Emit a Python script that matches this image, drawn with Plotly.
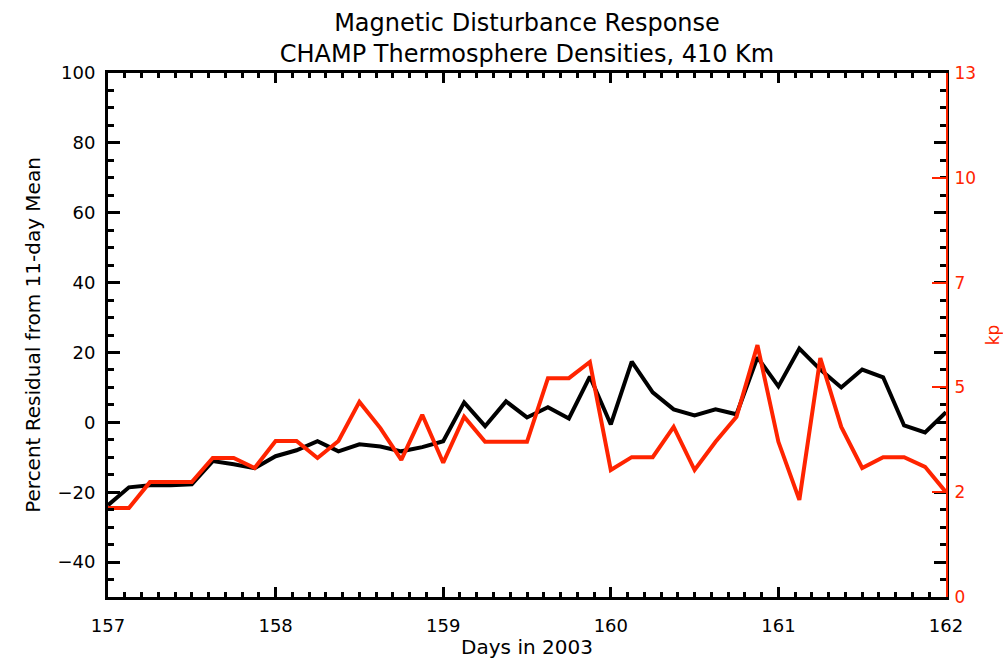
import plotly.graph_objects as go

# Days in 2003 (3-hour samples)
days = [157.0, 157.125, 157.25, 157.375, 157.5, 157.625, 157.75, 157.875,
        158.0, 158.125, 158.25, 158.375, 158.5, 158.625, 158.75, 158.875,
        159.0, 159.125, 159.25, 159.375, 159.5, 159.625, 159.75, 159.875,
        160.0, 160.125, 160.25, 160.375, 160.5, 160.625, 160.75, 160.875,
        161.0, 161.125, 161.25, 161.375, 161.5, 161.625, 161.75, 161.875,
        162.0]

# Percent residual from 11-day mean (CHAMP density)
residual = [-23.7, -18.6, -18.0, -18.0, -17.7, -11.1, -12.0, -13.1,
            -9.7, -8.0, -5.4, -8.3, -6.3, -6.9, -8.3, -7.1,
            -5.4, 5.7, -1.1, 6.0, 1.4, 4.3, 1.1, 13.1,
            -0.6, 17.4, 8.6, 3.7, 2.0, 3.7, 2.3, 18.6,
            10.3, 21.1, 15.1, 10.0, 15.1, 12.9, -0.9, -2.9,
            2.9]

# kp index
kp = [2.21, 2.21, 2.85, 2.85, 2.85, 3.45, 3.45, 3.20,
      3.87, 3.87, 3.45, 3.87, 4.84, 4.19, 3.40, 4.52,
      3.33, 4.47, 3.85, 3.85, 3.85, 5.43, 5.43, 5.83,
      3.15, 3.47, 3.47, 4.22, 3.15, 3.85, 4.47, 6.25,
      3.85, 2.41, 5.93, 4.22, 3.20, 3.47, 3.47, 3.23,
      2.60]

left_ticks = [-40, -20, 0, 20, 40, 60, 80, 100]
kp_tickvals = [0, 2.6, 5.2, 7.8, 10.4, 13]
kp_ticktext = ["0", "2", "5", "7", "10", "13"]
x_ticks = [157, 158, 159, 160, 161, 162]

RED = "rgb(255,36,0)"
FONT = "DejaVu Sans"

fig = go.Figure()
fig.add_trace(go.Scatter(x=days, y=residual, mode="lines",
                         line=dict(color="black", width=4), yaxis="y"))
fig.add_trace(go.Scatter(x=days, y=kp, mode="lines",
                         line=dict(color=RED, width=4), yaxis="y2"))

fig.update_layout(
    width=1003, height=666,
    margin=dict(l=108, r=57, t=73, b=69, autoexpand=False),
    paper_bgcolor="white", plot_bgcolor="white",
    showlegend=False,
    font=dict(family=FONT, color="black", size=18),
    title=dict(text="Magnetic Disturbance Response<br>CHAMP Thermosphere Densities, 410 Km",
               x=0.5, xref="paper", xanchor="center",
               y=1 - 31 / 666, yref="container", yanchor="middle",
               font=dict(family=FONT, size=24, color="black")),
    xaxis=dict(range=[157, 162], tickvals=x_ticks, ticktext=[str(v) for v in x_ticks],
               showgrid=False, zeroline=False, automargin=False,
               showline=True, linecolor="black", linewidth=3, mirror="ticks",
               ticks="inside", ticklen=10, tickwidth=2.5, tickcolor="black",
               minor=dict(dtick=0.1, ticks="inside", ticklen=5, tickwidth=2.5, tickcolor="black"),
               ticklabelstandoff=10,
               title=dict(text="Days in 2003", standoff=6, font=dict(size=20))),
    yaxis=dict(range=[-50, 100], tickvals=left_ticks,
               showgrid=False, zeroline=False, automargin=False,
               showline=True, linecolor="black", linewidth=3, mirror="ticks",
               ticks="inside", ticklen=12, tickwidth=2.5, tickcolor="black",
               minor=dict(dtick=5, ticks="inside", ticklen=6, tickwidth=2.5, tickcolor="black"),
               ticklabelstandoff=6,
               title=dict(text="Percent Residual from 11-day Mean", standoff=12, font=dict(size=20))),
    yaxis2=dict(range=[0, 13], overlaying="y", side="right",
                tickvals=kp_tickvals, ticktext=kp_ticktext,
                showgrid=False, zeroline=False, automargin=False,
                showline=True, linecolor=RED, linewidth=2,
                ticks="inside", ticklen=14, tickwidth=2, tickcolor=RED,
                tickfont=dict(color=RED, size=17),
                ticklabelstandoff=3,
                title=dict(text="kp", standoff=18, font=dict(color=RED, size=17))),
)

fig.write_html("out.html")
